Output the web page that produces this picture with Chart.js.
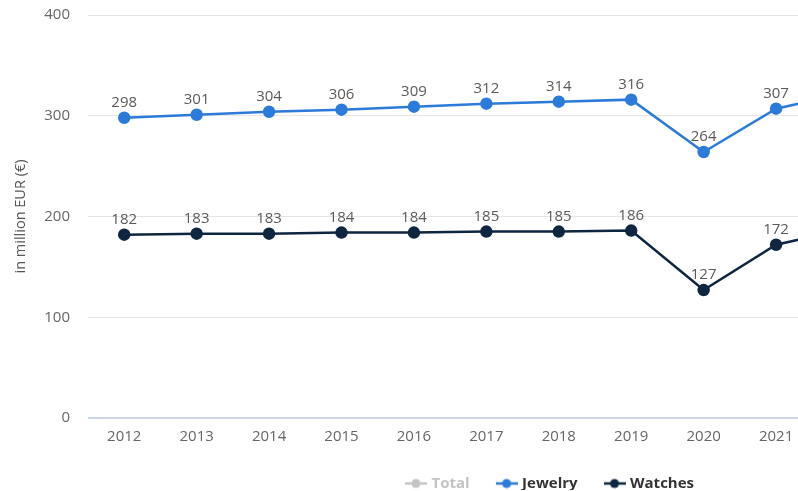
<!DOCTYPE html>
<html>
<head>
<meta charset="utf-8">
<script src="https://cdn.jsdelivr.net/npm/chart.js@4/dist/chart.umd.min.js"></script>
<style>
  html, body { margin: 0; padding: 0; background: #fff; overflow: hidden; }
  #wrap { width: 1110px; height: 491px; }
</style>
</head>
<body>
<div id="wrap"><canvas id="chart"></canvas></div>
<script>
// years shown on the axis (the source chart runs past the right edge)
const YEARS = ['2012', '2013', '2014', '2015', '2016', '2017', '2018', '2019', '2020', '2021', '2022', '2023', '2024', '2025'];
const JEWELRY = [298, 301, 304, 306, 309, 312, 314, 316, 264, 307, 323, null, null, null];
const WATCHES = [182, 183, 183, 184, 184, 185, 185, 186, 127, 172, 188, null, null, null];
const TOTAL = [480, 484, 487, 490, 493, 497, 499, 502, 391, 479, 511, null, null, null];
const Y_TICKS = [0, 100, 200, 300, 400];

const COLORS = { total: '#c4c4c4', jewelry: '#2c7ad9', watches: '#0f2640' };
const FONT = '"Open Sans", "DejaVu Sans", sans-serif';

// small "line + dot" marker for the legend
function legendMarker(color) {
  const c = document.createElement('canvas');
  c.width = 22; c.height = 12;
  const ctx = c.getContext('2d');
  ctx.strokeStyle = color; ctx.lineWidth = 2.5;
  ctx.beginPath(); ctx.moveTo(0, 6); ctx.lineTo(22, 6); ctx.stroke();
  ctx.fillStyle = color;
  ctx.beginPath(); ctx.arc(11, 6, 4.5, 0, Math.PI * 2); ctx.fill();
  return c;
}

// value labels above each visible point
const pointLabels = {
  id: 'pointLabels',
  afterDatasetsDraw(chart) {
    const ctx = chart.ctx;
    ctx.save();
    ctx.font = '15px ' + FONT;
    ctx.fillStyle = '#5a5a5a';
    ctx.textAlign = 'center';
    ctx.textBaseline = 'middle';
    chart.data.datasets.forEach((ds, i) => {
      if (!chart.isDatasetVisible(i)) return;
      chart.getDatasetMeta(i).data.forEach((pt, j) => {
        const v = ds.data[j];
        if (v == null) return;
        ctx.fillText(String(v), pt.x, pt.y - 15);
      });
    });
    ctx.restore();
  }
};

// keep the legend's horizontal spacing but not its tall vertical padding
const legendHeight = {
  id: 'legendHeight',
  afterInit(chart) {
    const lg = chart.legend;
    const fit = lg.fit;
    lg.fit = function () { fit.call(this); this.height = 43; };
  }
};

function series(label, data, color, hidden) {
  return {
    label, data, hidden: !!hidden,
    borderColor: color, backgroundColor: color,
    pointBackgroundColor: color, pointBorderColor: color,
    borderWidth: 2.5, pointRadius: 5, pointHoverRadius: 5,
    tension: 0, pointStyle: 'circle',
    legendMarker: legendMarker(color)
  };
}

new Chart(document.getElementById('chart'), {
  type: 'line',
  data: {
    labels: YEARS,
    datasets: [
      series('Total', TOTAL, COLORS.total, true),
      series('Jewelry', JEWELRY, COLORS.jewelry),
      series('Watches', WATCHES, COLORS.watches)
    ]
  },
  plugins: [pointLabels, legendHeight],
  options: {
    responsive: true,
    maintainAspectRatio: false,
    animation: false,
    layout: { padding: { top: 15, right: 8, bottom: 1, left: 0 } },
    plugins: {
      tooltip: { enabled: false },
      legend: {
        position: 'bottom',
        labels: {
          usePointStyle: true,
          pointStyleWidth: 16,
          padding: 29,
          font: { family: FONT, size: 15, weight: 'bold' },
          color: '#333',
          generateLabels(chart) {
            return chart.data.datasets.map((ds, i) => {
              const off = !chart.isDatasetVisible(i);
              return {
                text: ds.label,
                datasetIndex: i,
                hidden: false,
                fontColor: off ? COLORS.total : '#333',
                pointStyle: off ? legendMarker(COLORS.total) : ds.legendMarker,
                fillStyle: ds.borderColor,
                strokeStyle: ds.borderColor,
                lineWidth: 0
              };
            });
          }
        }
      }
    },
    scales: {
      x: {
        offset: true,
        afterFit(scale) { scale.height = 29; },
        grid: { display: false, drawTicks: false },
        border: { display: false },
        ticks: { color: '#666', font: { family: FONT, size: 15 }, padding: 10, maxRotation: 0, autoSkip: false }
      },
      y: {
        min: 0, max: 400,
        afterFit(scale) { scale.width = 88; },
        afterBuildTicks(scale) { scale.ticks = Y_TICKS.map(v => ({ value: v })); },
        grid: {
          drawTicks: true,
          tickLength: 18,
          tickColor: 'rgba(0,0,0,0)',
          color: ctx => (ctx.tick && ctx.tick.value === 0 ? '#cdd5ea' : '#e6e6e6'),
          lineWidth: ctx => (ctx.tick && ctx.tick.value === 0 ? 2 : 1)
        },
        border: { display: false },
        ticks: { color: '#666', font: { family: FONT, size: 15 }, padding: 0 },
        title: {
          display: true,
          text: 'in million EUR (€)',
          color: '#555',
          font: { family: FONT, size: 14.5 },
          padding: { top: 12, bottom: 0 }
        }
      }
    }
  }
});
</script>
</body>
</html>
